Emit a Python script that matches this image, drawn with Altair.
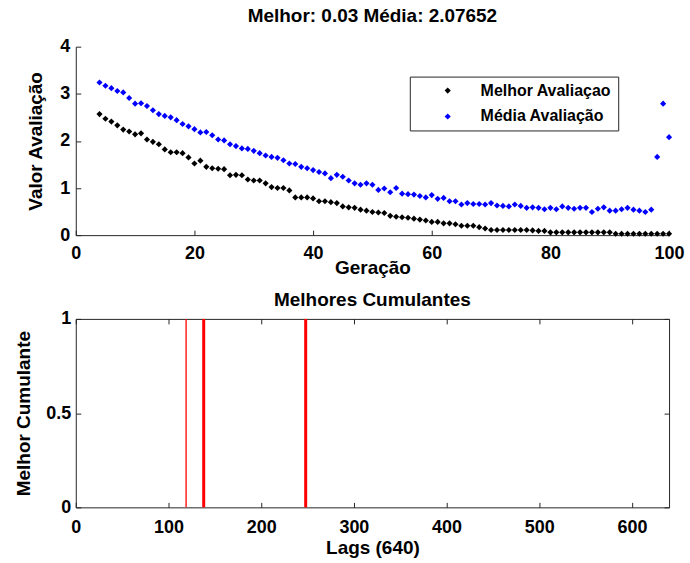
import altair as alt
import pandas as pd

# ---------------- data ----------------
generations = [4, 5, 6, 7, 8, 9, 10, 11, 12, 13,
               14, 15, 16, 17, 18, 19, 20, 21, 22, 23,
               24, 25, 26, 27, 28, 29, 30, 31, 32, 33,
               34, 35, 36, 37, 38, 39, 40, 41, 42, 43,
               44, 45, 46, 47, 48, 49, 50, 51, 52, 53,
               54, 55, 56, 57, 58, 59, 60, 61, 62, 63,
               64, 65, 66, 67, 68, 69, 70, 71, 72, 73,
               74, 75, 76, 77, 78, 79, 80, 81, 82, 83,
               84, 85, 86, 87, 88, 89, 90, 91, 92, 93,
               94, 95, 96, 97, 98, 99, 100]

melhor = [2.57, 2.47, 2.41, 2.33, 2.24, 2.20, 2.14, 2.16, 2.03, 1.98,
          1.93, 1.82, 1.76, 1.76, 1.74, 1.65, 1.52, 1.58, 1.45, 1.42,
          1.41, 1.40, 1.27, 1.28, 1.27, 1.18, 1.16, 1.16, 1.10, 1.02,
          1.00, 1.00, 0.95, 0.80, 0.80, 0.80, 0.78, 0.72, 0.72, 0.70,
          0.68, 0.61, 0.59, 0.58, 0.54, 0.52, 0.49, 0.48, 0.47, 0.41,
          0.39, 0.38, 0.37, 0.35, 0.33, 0.31, 0.28, 0.28, 0.25, 0.25,
          0.23, 0.20, 0.20, 0.20, 0.17, 0.14, 0.11, 0.11, 0.11, 0.11,
          0.11, 0.11, 0.11, 0.10, 0.09, 0.09, 0.06, 0.06, 0.06, 0.06,
          0.06, 0.06, 0.06, 0.06, 0.06, 0.06, 0.06, 0.03, 0.03, 0.03,
          0.03, 0.03, 0.03, 0.03, 0.03, 0.03, 0.03]

media = [3.24, 3.17, 3.12, 3.06, 3.03, 2.91, 2.79, 2.80, 2.74, 2.65,
         2.57, 2.53, 2.50, 2.44, 2.36, 2.31, 2.25, 2.18, 2.19, 2.12,
         2.03, 2.01, 1.93, 1.89, 1.84, 1.83, 1.79, 1.74, 1.69, 1.66,
         1.64, 1.59, 1.52, 1.51, 1.45, 1.42, 1.38, 1.34, 1.31, 1.21,
         1.28, 1.24, 1.16, 1.10, 1.07, 1.10, 1.07, 0.96, 0.99, 0.91,
         1.00, 0.88, 0.87, 0.86, 0.83, 0.80, 0.85, 0.77, 0.79, 0.72,
         0.72, 0.65, 0.68, 0.66, 0.66, 0.65, 0.68, 0.63, 0.62, 0.61,
         0.65, 0.62, 0.58, 0.59, 0.58, 0.55, 0.58, 0.55, 0.61, 0.58,
         0.56, 0.58, 0.58, 0.49, 0.56, 0.59, 0.52, 0.52, 0.55, 0.58,
         0.54, 0.52, 0.49, 0.54, 1.66, 2.79, 2.08]

series_names = ["Melhor Avaliaçao", "Média Avaliação"]
series_colors = ["#000000", "#0000ff"]

lags = [119, 138, 248]

top_x_ticks = [0, 20, 40, 60, 80, 100]
top_y_ticks = [0, 1, 2, 3, 4]
bot_x_ticks = [0, 100, 200, 300, 400, 500, 600]
bot_y_ticks = [0, 0.5, 1]

top_title = "Melhor: 0.03 Média: 2.07652"
bot_title = "Melhores Cumulantes"

# ---------------- style ----------------
FONT = "Liberation Sans"
AXC = "#262626"

df = pd.DataFrame({
    "gen": generations + generations,
    "valor": melhor + media,
    "serie": [series_names[0]] * len(melhor) + [series_names[1]] * len(media),
})
lag_df = pd.DataFrame({"lag": lags})

x_top = alt.Scale(domain=[0, 100], nice=False, zero=False)
y_top = alt.Scale(domain=[0, 4], nice=False)
x_bot = alt.Scale(domain=[0, 640], nice=False, zero=False)
y_bot = alt.Scale(domain=[0, 1], nice=False)

# ---- top panel ----
points = alt.Chart(df).mark_point(shape="diamond", filled=True, size=38, opacity=1).encode(
    x=alt.X("gen:Q", scale=x_top,
            axis=alt.Axis(values=top_x_ticks, title="Geração", domain=True, ticks=False,
                          labelPadding=9, titlePadding=-4, labelFlush=False, labelOverlap=False)),
    y=alt.Y("valor:Q", scale=y_top,
            axis=alt.Axis(values=top_y_ticks, title="Valor Avaliação", domain=True, ticks=False,
                          labelPadding=6, titlePadding=14, labelFlush=False, labelOverlap=False)),
    color=alt.Color("serie:N",
                    scale=alt.Scale(domain=series_names, range=series_colors),
                    sort=series_names,
                    legend=alt.Legend(title=None, orient="none", legendX=335, legendY=30,
                                      direction="vertical",
                                      strokeColor=AXC, fillColor="white", padding=6,
                                      rowPadding=10, symbolOffset=24, labelOffset=25,
                                      symbolSize=38, symbolType="diamond",
                                      labelFontSize=16, labelFont=FONT, labelFontWeight="bold",
                                      labelColor="black", labelLimit=300)),
)

top_ticks = alt.Chart(df).mark_point(opacity=0).encode(
    x=alt.X("gen:Q", scale=x_top,
            axis=alt.Axis(orient="bottom", values=top_x_ticks, title="", labels=False,
                          domain=False, ticks=True, tickSize=5, offset=-5)),
    y=alt.Y("valor:Q", scale=y_top,
            axis=alt.Axis(orient="left", values=top_y_ticks, title="", labels=False,
                          domain=False, ticks=True, tickSize=5, offset=-5)),
)

top = alt.layer(points, top_ticks).resolve_axis(x="independent", y="independent").properties(
    width=595, height=189,
    title=alt.TitleParams(top_title, offset=12),
)

# ---- bottom panel ----
rules = alt.Chart(lag_df).mark_rule(color="#ff0000").encode(
    x=alt.X("lag:Q", scale=x_bot,
            axis=alt.Axis(values=bot_x_ticks, title="Lags (640)", domain=False, ticks=True,
                          tickSize=5, offset=-5, labelPadding=11, titlePadding=2,
                          labelFlush=False, labelOverlap=False)),
    y=alt.YDatum(0, type="quantitative", scale=y_bot,
                 axis=alt.Axis(values=bot_y_ticks, title="Melhor Cumulante", domain=False,
                               ticks=True, tickSize=5, offset=-5, labelPadding=5,
                               titlePadding=12, format="~g", labelFlush=False,
                               labelOverlap=False)),
    y2=alt.Y2Datum(1),
    strokeWidth=alt.condition(alt.datum.lag < 130, alt.value(1.3), alt.value(3)),
)

bot_ticks = alt.Chart(lag_df).mark_rule(opacity=0).encode(
    x=alt.X("lag:Q", scale=x_bot,
            axis=alt.Axis(orient="top", values=bot_x_ticks, title="", labels=False,
                          domain=False, ticks=True, tickSize=5, offset=-5)),
    y=alt.YDatum(0, type="quantitative", scale=y_bot,
                 axis=alt.Axis(orient="right", values=bot_y_ticks, title="", labels=False,
                               domain=False, ticks=True, tickSize=5, offset=-5)),
    y2=alt.Y2Datum(1),
)

bottom = alt.layer(rules, bot_ticks).resolve_axis(x="independent", y="independent").properties(
    width=595, height=189,
    title=alt.TitleParams(bot_title, offset=0),
    view=alt.ViewBackground(stroke=AXC, strokeWidth=1),
)

chart = alt.vconcat(top, bottom, spacing=13).properties(
    padding={"left": 14, "top": 6, "right": 5, "bottom": 5},
    background="white",
).configure_view(
    strokeWidth=0,
).configure_axis(
    labelFont=FONT, labelFontSize=18, labelFontWeight="bold", labelColor="black",
    titleFont=FONT, titleFontSize=19, titleFontWeight="bold", titleColor="black",
    domainColor=AXC, tickColor=AXC, domainWidth=1, tickWidth=1, grid=False,
).configure_title(
    font=FONT, fontSize=19, fontWeight="bold", color="black", anchor="middle",
)

chart.save("out.html", embed_options={"renderer": "svg", "actions": False})
